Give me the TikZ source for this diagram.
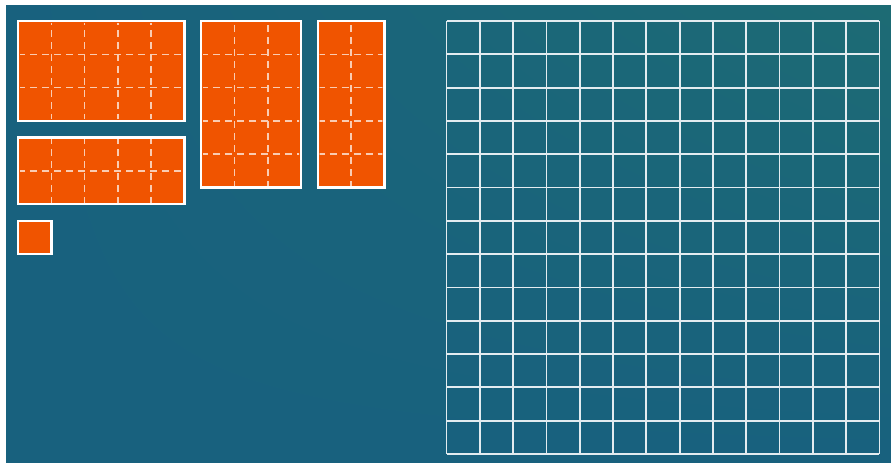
\documentclass[tikz,border=0pt]{standalone}
\usepackage{xcolor}
\usepackage{tikz}
\usetikzlibrary{calc,shadings}

\definecolor{tileorange}{HTML}{F05400}
\definecolor{boardblue}{HTML}{18617E}
\definecolor{boardteal}{HTML}{1D6B74}

\begin{document}
\begin{tikzpicture}[x=33.3pt,y=-33.3pt,
  piece/.style={draw=white,line width=2.4pt},
  seam/.style={draw=white!70!tileorange,line width=1.6pt,dash pattern=on 7pt off 5pt},
  board/.style={draw=white!88!boardblue,line width=1.8pt},
  unitstep/.style={xstep=33.3pt,ystep=33.3pt}]
\useasboundingbox (-0.541,-0.631) rectangle (26.216,13.243);
% backdrop
\shade[upper right=boardteal,upper left=boardblue,lower left=boardblue,lower right=boardblue]
  (-0.36,-0.48) rectangle (26.216,13.243);
% the pieces: x/y/cols/rows
\foreach \px/\py/\w/\h in {0/0/5/3, 0/3.5/5/2, 5.5/0/3/5, 9/0/2/5, 0/6/1/1}{
  \begin{scope}[shift={(\px,\py)}]
    \fill[tileorange] (0,0) rectangle (\w,\h);
    \begin{scope}
      \clip (0.06,0.06) rectangle (\w-0.06,\h-0.06);
      \draw[seam,unitstep] (0,0) grid (\w,\h);
    \end{scope}
    \draw[piece] (0,0) rectangle (\w,\h);
  \end{scope}
}
% the 13 x 13 board
\draw[board,unitstep,shift={(12.87,0)}] (0,0) grid (13,13);
\end{tikzpicture}
\end{document}
